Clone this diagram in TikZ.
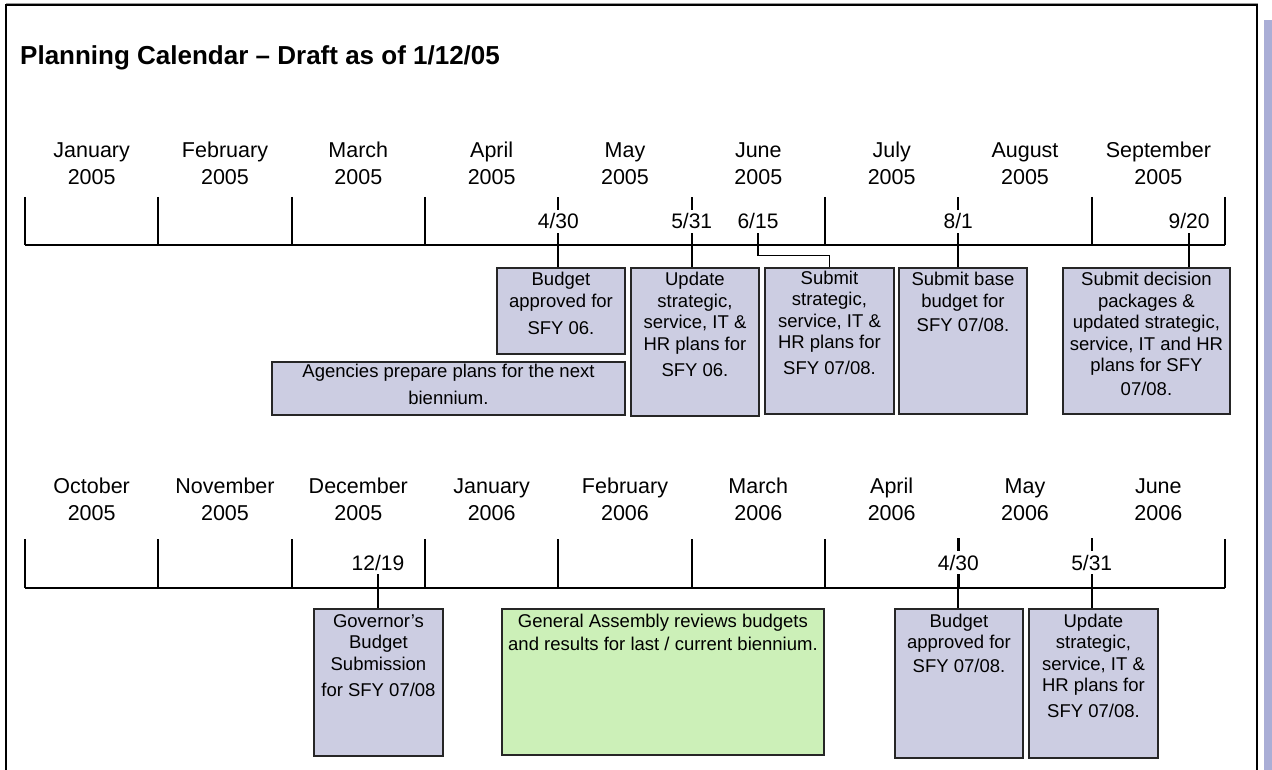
\documentclass[tikz,border=0pt]{standalone}
\usepackage{fontspec}
\setmainfont{Liberation Sans}
\definecolor{lav}{RGB}{204,205,226}
\definecolor{grn}{RGB}{204,240,184}
\definecolor{stripc}{RGB}{170,174,214}
\newcommand{\bxt}[4][18]{\parbox[c][#3pt][t]{#2pt}{\centering\fontsize{18.5}{21.5}\selectfont\rule{0pt}{#1pt}#4\par}}
\tikzset{
  evbox/.style={draw=black!85, line width=1.9pt, fill=lav, inner sep=0pt, anchor=north west},
  gabox/.style={evbox, fill=grn},
  monthlbl/.style={anchor=base, text width=130pt, align=center, inner sep=0pt, font=\fontsize{21.5}{27}\selectfont},
  datelbl/.style={anchor=base, inner xsep=0pt, inner ysep=4pt, font=\fontsize{21}{25}\selectfont},
  axisline/.style={line width=1.8pt},
  conn/.style={line width=1.8pt},
  thickconn/.style={line width=3pt}
}
\begin{document}
\begin{tikzpicture}[x=1pt,y=-1pt]
\useasboundingbox (0,0) rectangle (1272,770);
% frame and side strip
\fill[stripc] (1264,20) rectangle (1272,770);
\draw[black!40, line width=1pt] (6,3.3) -- (1258,3.3);
\draw[line width=2pt] (6,772) -- (6,5.5) -- (1257,5.5) -- (1257,772);
% title
\node[anchor=base west, inner sep=0pt, font=\fontsize{26}{30}\selectfont\bfseries] (title) at (20,65) {Planning Calendar – Draft as of 1/12/05};

% ---------- top timeline ----------
\foreach \m [count=\i from 0] in {January,February,March,April,May,June,July,August,September}
  \node[monthlbl] (mt\i) at ({25+133.333*(\i+0.5)},158) {\m\\2005};
\foreach \k in {0,1,2,3,6,8,9}
  \draw[axisline] ({25+133.333*\k},197) -- ({25+133.333*\k},245);
\draw[axisline] (25,245) -- (1225,245);

\node[datelbl] (t430) at (558.3,229) {4/30};
\node[datelbl] (t531) at (691.7,229) {5/31};
\node[datelbl] (t615) at (758,229) {6/15};
\node[datelbl] (t81)  at (958.3,229) {8/1};
\node[datelbl] (t920) at (1189,229) {9/20};

% top boxes
\node[evbox] (tAg) at (271,361) {\bxt[15.5]{353}{53}{Agencies prepare plans for the next\\[5.5pt]biennium.}};
\node[evbox] (tBud) at (496,267) {\bxt{128}{86}{Budget\\approved for\\[5.5pt]SFY 06.}};
\node[evbox] (tUpd) at (630,267) {\bxt{128}{148}{Update\\strategic,\\service, IT \&\\HR plans for\\[4.5pt]SFY 06.}};
\node[evbox] (tSub) at (764,267) {\bxt[16.5]{129}{146}{Submit\\strategic,\\service, IT \&\\HR plans for\\[4pt]SFY 07/08.}};
\node[evbox] (tBase) at (898,267) {\bxt{128}{146}{Submit base\\budget for\\[2.5pt]SFY 07/08.}};
\node[evbox] (tDec) at (1062,267) {\bxt{167}{146}{Submit decision\\packages \&\\updated strategic,\\service, IT and HR\\plans for SFY\\[2.5pt]07/08.}};

% top connectors
\draw[conn] (t430.north) -- ++(0,-13);
\draw[conn] (t430.south) -- (t430.south |- tBud.north);
\draw[conn] (t531.north) -- ++(0,-13);
\draw[conn] (t531.south) -- (t531.south |- tUpd.north);
\draw[conn] (t615.south) -- ++(0,22) -| (tSub.north);
\draw[conn] (t81.north) -- ++(0,-13);
\draw[conn] (t81.south) -- (t81.south |- tBase.north);
\draw[conn] (t920.south) -- (t920.south |- tDec.north);

% ---------- bottom timeline ----------
\foreach \m/\yr [count=\i from 0] in {October/2005,November/2005,December/2005,January/2006,February/2006,March/2006,April/2006,May/2006,June/2006}
  \node[monthlbl] (mb\i) at ({25+133.333*(\i+0.5)},493) {\m\\\yr};
\foreach \k in {0,1,2,3,4,5,6,9}
  \draw[axisline] ({25+133.333*\k},539) -- ({25+133.333*\k},588);
\draw[axisline] (25,588) -- (1225,588);

\node[datelbl] (b1219) at (378,570) {12/19};
\node[datelbl] (b430) at (958.3,570) {4/30};
\node[datelbl] (b531) at (1091.7,570) {5/31};

% bottom boxes
\node[evbox] (bGov) at (313,608) {\bxt[18.5]{129}{147}{Governor’s\\Budget\\Submission\\[4.5pt]for SFY 07/08}};
\node[gabox] (bGA) at (501,608) {\bxt[18.5]{322}{146}{General Assembly reviews budgets\\[1.5pt]and results for last / current biennium.}};
\node[evbox] (bBud) at (894,608) {\bxt[18.5]{128}{149}{Budget\\approved for\\[2.5pt]SFY 07/08.}};
\node[evbox] (bUpd) at (1028,608) {\bxt[18.5]{129}{149}{Update\\strategic,\\service, IT \&\\HR plans for\\[4.5pt]SFY 07/08.}};

% bottom connectors
\draw[conn] (b1219.south) -- (b1219.south |- bGov.north);
\draw[thickconn] (b430.north) -- ++(0,-13);
\draw[thickconn] (b430.south) -- ++(0,13.7);
\draw[conn] (b430.south) -- (b430.south |- bBud.north);
\draw[conn] (b531.north) -- ++(0,-13);
\draw[conn] (b531.south) -- (b531.south |- bUpd.north);
\end{tikzpicture}
\end{document}
